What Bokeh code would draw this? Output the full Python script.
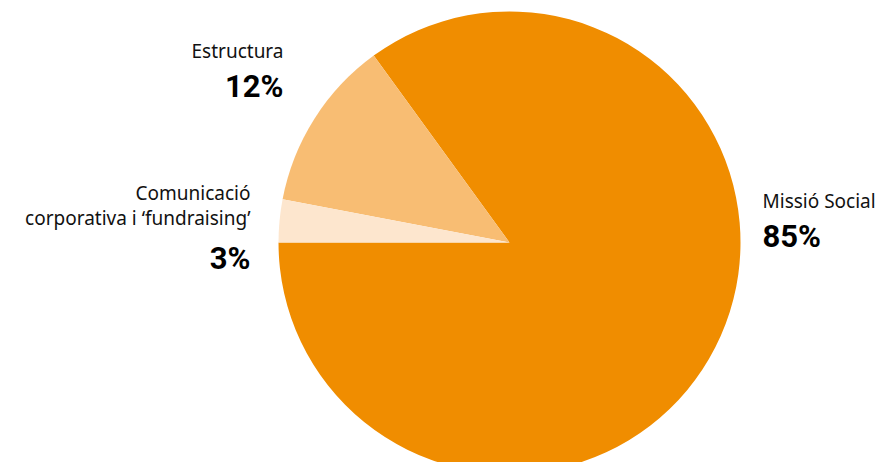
import math
from bokeh.plotting import figure
from bokeh.models import ColumnDataSource, Range1d
from bokeh.core.properties import value
from bokeh.embed import file_html
from bokeh.resources import INLINE

# Data
categories = ["Missió Social", "Estructura", "Comunicació\ncorporativa i ‘fundraising’"]
shares = [85, 12, 3]
pct_labels = ["85%", "12%", "3%"]
colors = ["#F08D00", "#F8BD73", "#FDE6CE"]

W, H = 876, 462
p = figure(width=W, height=H, output_backend="svg", toolbar_location=None,
           x_range=Range1d(0, W), y_range=Range1d(0, H), min_border=0)
p.axis.visible = False
p.grid.visible = False
p.outline_line_color = None
p.background_fill_color = "white"

def sy(screen_y):
    return H - screen_y

# Pie geometry (layout)
cx, cy, r = 509, sy(242), 231
start0 = math.pi  # start at 9 o'clock, going anticlockwise
starts, ends = [], []
a = start0
for s in shares:
    starts.append(a)
    a += s / 100 * 2 * math.pi
    ends.append(a)

src = ColumnDataSource(dict(x=[cx] * 3, y=[cy] * 3, start=starts, end=ends, color=colors))
p.wedge(x="x", y="y", radius=r, start_angle="start", end_angle="end",
        fill_color="color", line_color=None, source=src)

lab_font = value("Noto Sans")
pct_font = value("Roboto")
dy = 9  # baseline correction

# Label layout: (name lines, pct, x, name baselines, pct baseline, align)
layout = [
    (categories[0].split("\n"), pct_labels[0], 762, [sy(209 - dy)], sy(245 - dy), "left"),
    (categories[1].split("\n"), pct_labels[1], 283, [sy(59 - dy)], sy(95 - dy), "right"),
    (categories[2].split("\n"), pct_labels[2], 250, [sy(201 - dy), sy(226 - dy)], sy(267 - dy), "right"),
]
for lines, pct, x, ys, py, align in layout:
    for ln, yy in zip(lines, ys):
        p.text(x=[x], y=[yy], text=[ln], text_font=lab_font, text_font_size="19px",
               text_align=align, text_baseline="alphabetic", text_color="#111111")
    p.text(x=[x], y=[py], text=[pct], text_font=pct_font, text_font_size="31px",
           text_font_style="bold", text_align=align, text_baseline="alphabetic",
           text_color="#000000")

open("out.html", "w").write(file_html(p, INLINE))
